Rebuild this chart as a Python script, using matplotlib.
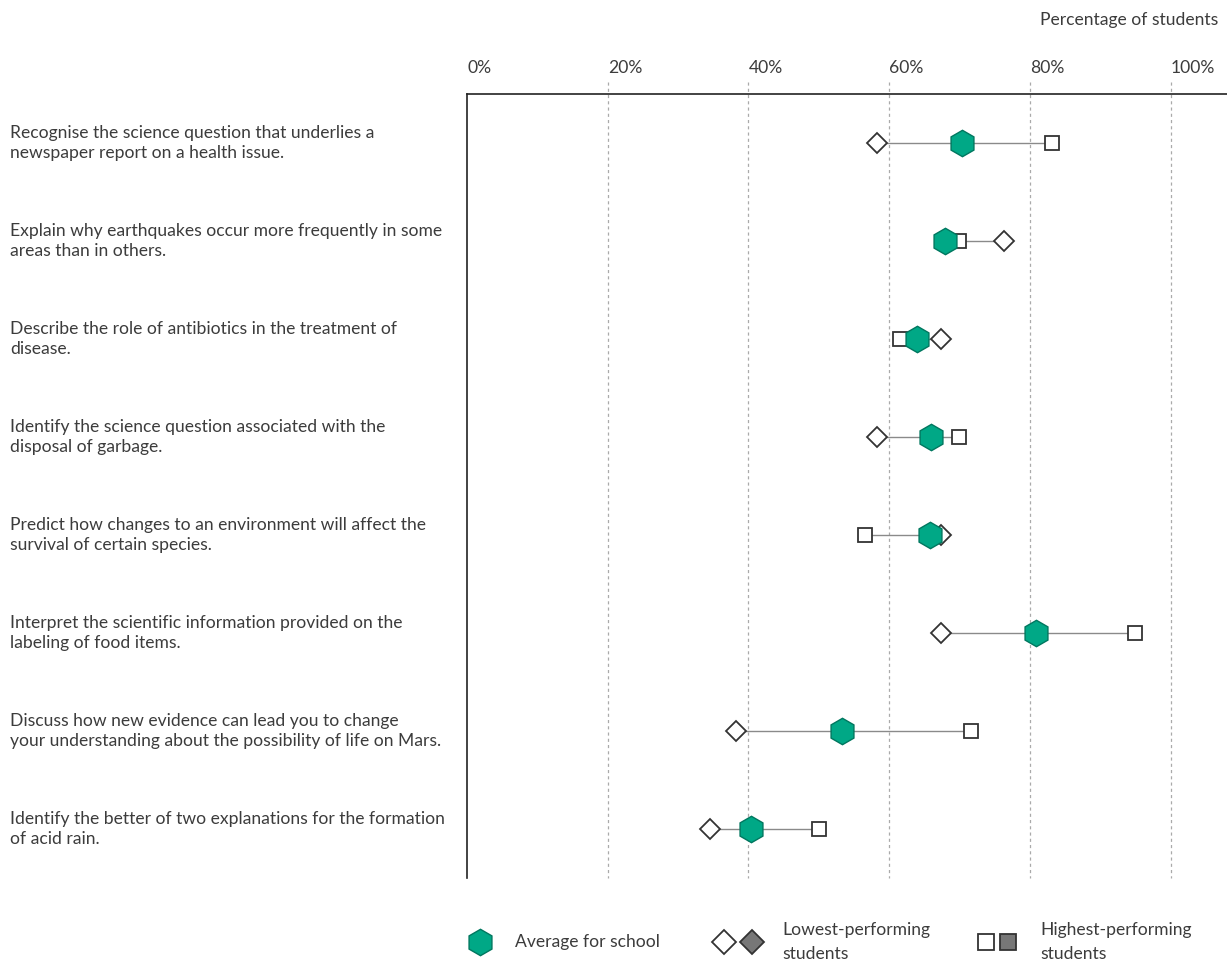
import matplotlib.pyplot as plt
from matplotlib.lines import Line2D

plt.rcParams['font.family'] = ['Lato', 'DejaVu Sans']

# item labels (top to bottom)
labels = [
    "Recognise the science question that underlies a\nnewspaper report on a health issue.",
    "Explain why earthquakes occur more frequently in some\nareas than in others.",
    "Describe the role of antibiotics in the treatment of\ndisease.",
    "Identify the science question associated with the\ndisposal of garbage.",
    "Predict how changes to an environment will affect the\nsurvival of certain species.",
    "Interpret the scientific information provided on the\nlabeling of food items.",
    "Discuss how new evidence can lead you to change\nyour understanding about the possibility of life on Mars.",
    "Identify the better of two explanations for the formation\nof acid rain.",
]

average = [70.3, 67.9, 63.9, 65.9, 65.8, 80.8, 53.3, 40.3]
lowest = [58.2, 76.3, 67.3, 58.2, 67.3, 67.3, 38.2, 34.5]
highest = [83.2, 69.9, 61.6, 69.9, 56.5, 94.9, 71.6, 50.0]

ticks = [0, 20, 40, 60, 80, 100]
tick_labels = ['0%', '20%', '40%', '60%', '80%', '100%']

green = '#00a886'
txt = '#3c3c3c'
fs = 12.6

fig = plt.figure(figsize=(12.27, 9.67), dpi=100)
ax = fig.add_axes([467 / 1227, 1 - 878 / 967, (1227 - 467) / 1227, (878 - 94) / 967])

ax.set_xlim(0, 108)
ax.set_ylim(len(labels) - 0.5, -0.5)

# dashed gridlines, poking a little above the axis line
for t in ticks[1:]:
    ax.plot([t, t], [-0.62, len(labels) - 0.5], color='#aaaaaa', lw=0.9,
            ls=(0, (2.5, 2.5)), zorder=1, clip_on=False)

for i in range(len(labels)):
    vals = [average[i], lowest[i], highest[i]]
    ax.plot([min(vals), max(vals)], [i, i], color='#8a8a8a', lw=1, zorder=2)
    ax.plot(lowest[i], i, marker='D', ms=10.5, mfc='white', mec='#333333', mew=1.3, zorder=3)
    ax.plot(highest[i], i, marker='s', ms=10, mfc='white', mec='#333333', mew=1.3, zorder=3)
    ax.plot(average[i], i, marker='h', ms=19, mfc=green, mec='#00775f', mew=1, zorder=4)

for s in ['right', 'bottom']:
    ax.spines[s].set_visible(False)
for s in ['top', 'left']:
    ax.spines[s].set_color('#222222')
    ax.spines[s].set_linewidth(1.2)

ax.xaxis.tick_top()
ax.set_xticks(ticks)
ax.set_xticklabels(tick_labels, fontsize=fs, color=txt, ha='left')
ax.tick_params(axis='x', length=0, pad=13)
ax.set_yticks([])

for i, lab in enumerate(labels):
    y_disp = ax.transData.transform((0, i))[1]
    fig.text(10 / 1227, y_disp / fig.bbox.height, lab, fontsize=fs, color=txt,
             va='center', ha='left', linespacing=1.35)

fig.text(1218 / 1227, 1 - 20 / 967, 'Percentage of students', fontsize=fs, color=txt,
         ha='right', va='center')

# legend
ly = 1 - 942 / 967
fig.add_artist(Line2D([480 / 1227], [ly], marker='h', ms=19, mfc=green, mec='#00775f',
                      mew=1, transform=fig.transFigure))
fig.text(515 / 1227, ly, 'Average for school', fontsize=fs, color=txt, va='center')
fig.add_artist(Line2D([724 / 1227], [ly], marker='D', ms=12.5, mfc='white', mec='#333333',
                      mew=1.3, transform=fig.transFigure))
fig.add_artist(Line2D([752 / 1227], [ly], marker='D', ms=12.5, mfc='#777777', mec='#333333',
                      mew=1.3, transform=fig.transFigure))
fig.text(782 / 1227, ly, 'Lowest-performing\nstudents', fontsize=fs, color=txt,
         va='center', linespacing=1.6)
fig.add_artist(Line2D([986 / 1227], [ly], marker='s', ms=11, mfc='white', mec='#333333',
                      mew=1.3, transform=fig.transFigure))
fig.add_artist(Line2D([1008 / 1227], [ly], marker='s', ms=11, mfc='#777777', mec='#333333',
                      mew=1.3, transform=fig.transFigure))
fig.text(1040 / 1227, ly, 'Highest-performing\nstudents', fontsize=fs, color=txt,
         va='center', linespacing=1.6)

fig.savefig('out.png', dpi=100)
